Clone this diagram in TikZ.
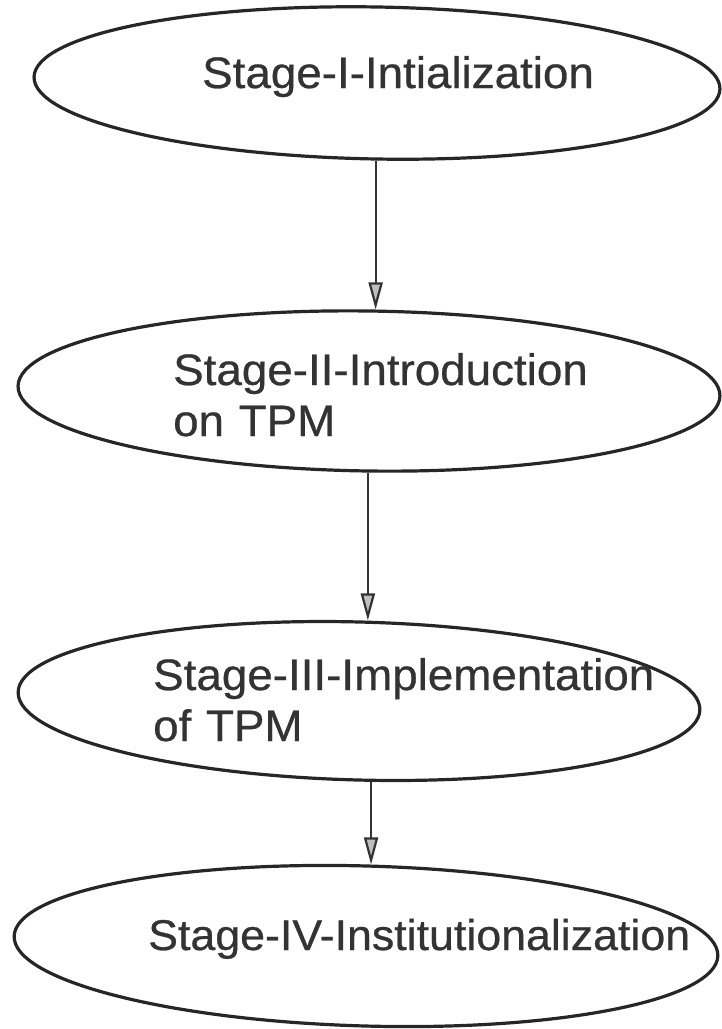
\documentclass[tikz,border=0pt]{standalone}
\usepackage{fontspec}
\setmainfont{Liberation Sans}[FakeStretch=1.04, FakeBold=0.6]
\usetikzlibrary{arrows.meta,calc,shapes.geometric}
\begin{document}
\begin{tikzpicture}[x=1pt,y=-1pt,
  stage/.style={ellipse, draw=black!85, line width=3.2pt, inner sep=0pt},
  lbl/.style={anchor=base west, inner sep=0pt, text=black!80, font=\fontsize{44}{51}\selectfont, align=left, text width=600pt},
  arr/.style={draw=black!80, line width=2.2pt, -{Triangle[length=27pt, width=14pt, fill=black!25]}}]
\useasboundingbox (0,0) rectangle (721,1029);
\fill[white] (0,0) rectangle (721,1029);
\node[stage, minimum width=686pt, minimum height=152pt, rotate=-1] (e1) at (377,83) {};
\node[stage, minimum width=702pt, minimum height=160pt, rotate=-0.8] (e2) at (369,391) {};
\node[stage, minimum width=682pt, minimum height=158pt, rotate=-1.5] (e3) at (359,701) {};
\node[stage, minimum width=704pt, minimum height=160pt, rotate=-1.6] (e4) at (366,946) {};
\node[lbl] (t1) at (202,88) {Stage-I-Intialization};
\node[lbl] (t2) at (173,385) {Stage-II-Introduction\\on TPM};
\node[lbl] (t3) at (153,690) {Stage-III-Implementation\\of TPM};
\node[lbl, font=\fontsize{43}{51}\selectfont] (t4) at (148,950) {Stage-IV-Institutionalization};
\draw[arr] (e1.south) -- (e1.south |- e2.north);
\draw[arr] (e2.south) -- (e2.south |- e3.north);
\draw[arr] (e3.-80) -- (e3.-80 |- e4.north);
\end{tikzpicture}
\end{document}
